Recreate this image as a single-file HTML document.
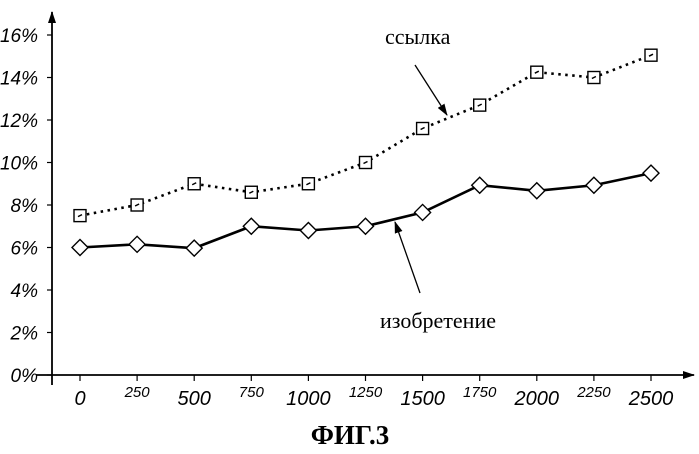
<!DOCTYPE html>
<html><head><meta charset="utf-8"><style>
html,body{margin:0;padding:0;background:#fff;}
svg text{font-family:"Liberation Sans",sans-serif;}
</style></head><body>
<svg id="chart" width="699" height="449" viewBox="0 0 699 449" xmlns="http://www.w3.org/2000/svg">
<defs>
<marker id="ah" markerWidth="12" markerHeight="8" refX="11" refY="4" orient="auto" markerUnits="userSpaceOnUse"><path d="M0,0 L12,4 L0,8 Z" fill="#000"/></marker>
</defs>
<g id="axes"></g>
<g id="series"></g>
<text x="385" y="44" font-family="Liberation Serif" font-size="22" style="font-family:'Liberation Serif',serif">ссылка</text>
<line x1="415" y1="65" x2="447" y2="115" stroke="#000" stroke-width="1.3" marker-end="url(#ah)"/>
<text x="380" y="328" font-size="22" style="font-family:'Liberation Serif',serif">изобретение</text>
<line x1="420" y1="293" x2="395" y2="222" stroke="#000" stroke-width="1.3" marker-end="url(#ah)"/>
<text x="350" y="444" text-anchor="middle" font-size="27" font-weight="bold" style="font-family:'Liberation Serif',serif">ФИГ.3</text>
</svg>
<script>
const categories=[0,250,500,750,1000,1250,1500,1750,2000,2250,2500];
const referenceValues=[7.5,8.0,9.0,8.6,9.0,10.0,11.6,12.7,14.25,14.0,15.05];
const inventionValues=[6.0,6.15,5.97,7.0,6.8,7.0,7.65,8.93,8.67,8.93,9.5];
const yTicks=[0,2,4,6,8,10,12,14,16];
const yTickLabels=["0%","2%","4%","6%","8%","10%","12%","14%","16%"];
const NS="http://www.w3.org/2000/svg";
const xS=v=>80+v*(571/2500);
const yS=v=>375-v*21.25;
function mk(t,a,p){const e=document.createElementNS(NS,t);for(const k in a)e.setAttribute(k,a[k]);p.appendChild(e);return e;}
const ax=document.getElementById('axes');
let l=mk('line',{x1:52,y1:385,x2:52,y2:12,stroke:'#000','stroke-width':1.8,'marker-end':'url(#ah)'},ax);


l=mk('line',{x1:36,y1:375,x2:694,y2:375,stroke:'#000','stroke-width':1.8,'marker-end':'url(#ah)'},ax);


yTicks.forEach((v,i)=>{
 const t=mk('line',{x1:47,y1:yS(v),x2:52,y2:yS(v),stroke:'#000','stroke-width':1.2},ax);
 
 
 const tx=mk('text',{x:38,y:yS(v)+7,'text-anchor':'end','font-size':19,'font-style':'italic'},ax);
 tx.textContent=yTickLabels[i];
 
 
});
categories.forEach((c,i)=>{
 const x=xS(c);
 const t=mk('line',{x1:x,y1:375,x2:x,y2:381,stroke:'#000','stroke-width':1.2},ax);
 
 
 const minor=i%2===1;
 const tx=mk('text',{x:x,y:minor?397:405,'text-anchor':'middle','font-size':minor?15:20,'font-style':'italic'},ax);
 tx.textContent=String(c);
 
 
});
const sg=document.getElementById('series');
function pts(vals){return vals.map((v,i)=>xS(categories[i])+','+yS(v)).join(' ');}
let p=mk('polyline',{points:pts(referenceValues),fill:'none',stroke:'#000','stroke-width':2.6,'stroke-dasharray':'2.5,4.5'},sg);


p=mk('polyline',{points:pts(inventionValues),fill:'none',stroke:'#000','stroke-width':2.6},sg);


referenceValues.forEach((v,i)=>{
 const x=xS(categories[i]),y=yS(v);
 const r=mk('rect',{x:x-6,y:y-6,width:12,height:12,fill:'#fff',stroke:'#000','stroke-width':1.4},sg);
 
 
 mk('line',{x1:x-2,y1:y+1,x2:x+2,y2:y-1,stroke:'#000','stroke-width':1.5},sg);
});
inventionValues.forEach((v,i)=>{
 const x=xS(categories[i]),y=yS(v);
 const d=mk('polygon',{points:`${x},${y-8} ${x+8},${y} ${x},${y+8} ${x-8},${y}`,fill:'#fff',stroke:'#000','stroke-width':1.4},sg);
 
 
});
</script>
</body></html>
